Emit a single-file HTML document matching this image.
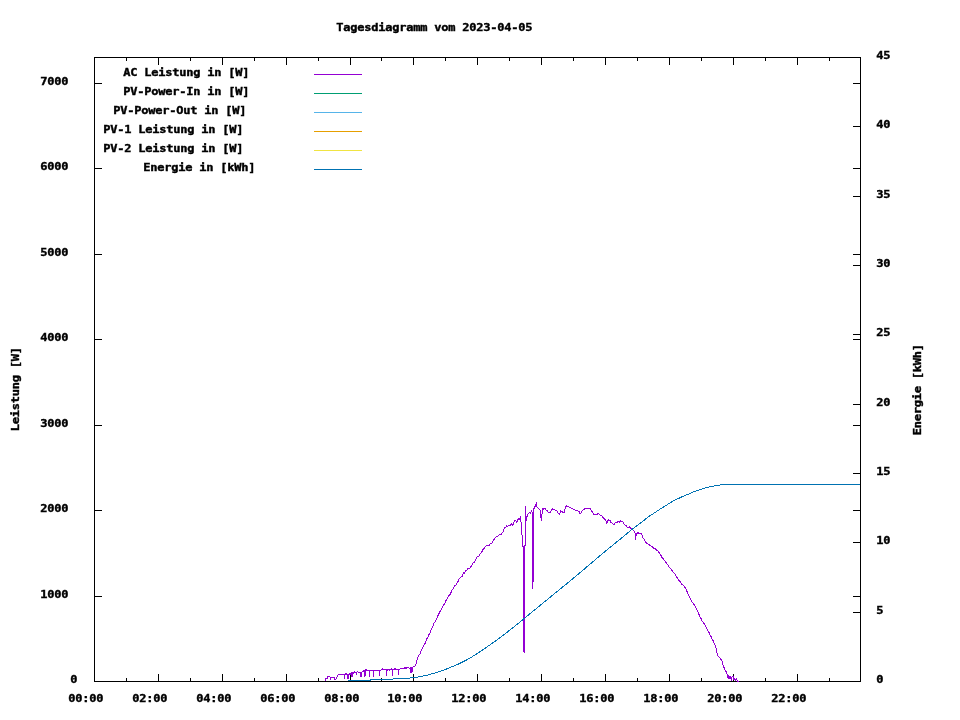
<!DOCTYPE html>
<html lang="de">
<head>
<meta charset="utf-8">
<title>Tagesdiagramm vom 2023-04-05</title>
<style>
html,body{margin:0;padding:0;background:#fff;}
body{width:960px;height:720px;overflow:hidden;}
svg{display:block;}
text{font-family:"DejaVu Sans Mono", "Liberation Mono", monospace;font-size:12.00px;font-weight:bold;letter-spacing:-0.224px;fill:#000;white-space:pre;stroke:#000;stroke-width:0.45px;}
.ax{stroke:#000;stroke-width:1;fill:none;shape-rendering:crispEdges;}
.ln{fill:none;stroke-width:1;stroke-linejoin:round;shape-rendering:crispEdges;}
</style>
</head>
<body>
<svg width="960" height="720" viewBox="0 0 960 720">
<rect x="0" y="0" width="960" height="720" fill="#ffffff"/>

<path class="ax" d="M94.5 57.5H860.5V681.5H94.5ZM126.5 678V681M126.5 58V61M158.5 674V681M158.5 58V65M190.5 678V681M190.5 58V61M222.5 674V681M222.5 58V65M254.5 678V681M254.5 58V61M286.5 674V681M286.5 58V65M318.5 678V681M318.5 58V61M350.5 674V681M350.5 58V65M381.5 678V681M381.5 58V61M413.5 674V681M413.5 58V65M445.5 678V681M445.5 58V61M477.5 674V681M477.5 58V65M509.5 678V681M509.5 58V61M541.5 674V681M541.5 58V65M573.5 678V681M573.5 58V61M605.5 674V681M605.5 58V65M637.5 678V681M637.5 58V61M669.5 674V681M669.5 58V65M701.5 678V681M701.5 58V61M733.5 674V681M733.5 58V65M765.5 678V681M765.5 58V61M797.5 674V681M797.5 58V65M829.5 678V681M829.5 58V61M95 596.5H102M853 596.5H860M95 510.5H102M853 510.5H860M95 425.5H102M853 425.5H860M95 339.5H102M853 339.5H860M95 254.5H102M853 254.5H860M95 168.5H102M853 168.5H860M95 83.5H102M853 83.5H860M853 612.5H860M853 542.5H860M853 473.5H860M853 404.5H860M853 334.5H860M853 265.5H860M853 196.5H860M853 126.5H860"/>
<text transform="translate(336.3,31) scale(1,0.885)">Tagesdiagramm vom 2023-04-05</text>
<text transform="translate(68.3,702) scale(1,0.885)">00:00</text>
<text transform="translate(132.3,702) scale(1,0.885)">02:00</text>
<text transform="translate(196.3,702) scale(1,0.885)">04:00</text>
<text transform="translate(260.3,702) scale(1,0.885)">06:00</text>
<text transform="translate(324.3,702) scale(1,0.885)">08:00</text>
<text transform="translate(387.3,702) scale(1,0.885)">10:00</text>
<text transform="translate(451.3,702) scale(1,0.885)">12:00</text>
<text transform="translate(515.3,702) scale(1,0.885)">14:00</text>
<text transform="translate(579.3,702) scale(1,0.885)">16:00</text>
<text transform="translate(643.3,702) scale(1,0.885)">18:00</text>
<text transform="translate(707.3,702) scale(1,0.885)">20:00</text>
<text transform="translate(771.3,702) scale(1,0.885)">22:00</text>
<text transform="translate(70.3,683) scale(1,0.885)">0</text>
<text transform="translate(40.3,598) scale(1,0.885)">1000</text>
<text transform="translate(40.3,512) scale(1,0.885)">2000</text>
<text transform="translate(40.3,427) scale(1,0.885)">3000</text>
<text transform="translate(40.3,341) scale(1,0.885)">4000</text>
<text transform="translate(40.3,256) scale(1,0.885)">5000</text>
<text transform="translate(40.3,170) scale(1,0.885)">6000</text>
<text transform="translate(40.3,85) scale(1,0.885)">7000</text>
<text transform="translate(876.3,683) scale(1,0.885)">0</text>
<text transform="translate(876.3,614) scale(1,0.885)">5</text>
<text transform="translate(876.3,544) scale(1,0.885)">10</text>
<text transform="translate(876.3,475) scale(1,0.885)">15</text>
<text transform="translate(876.3,406) scale(1,0.885)">20</text>
<text transform="translate(876.3,336) scale(1,0.885)">25</text>
<text transform="translate(876.3,267) scale(1,0.885)">30</text>
<text transform="translate(876.3,198) scale(1,0.885)">35</text>
<text transform="translate(876.3,128) scale(1,0.885)">40</text>
<text transform="translate(876.3,59) scale(1,0.885)">45</text>
<text transform="translate(19,431.3) rotate(-90) scale(1,0.885)">Leistung [W]</text>
<text transform="translate(921,435.3) rotate(-90) scale(1,0.885)">Energie [kWh]</text>
<text transform="translate(123.3,76) scale(1,0.885)">AC Leistung in [W]</text>
<path d="M314 74.5H362" stroke="#9400d3" stroke-width="1" fill="none" shape-rendering="crispEdges"/>
<text transform="translate(123.3,95) scale(1,0.885)">PV-Power-In in [W]</text>
<path d="M314 93.5H362" stroke="#009e73" stroke-width="1" fill="none" shape-rendering="crispEdges"/>
<text transform="translate(113.3,114) scale(1,0.885)">PV-Power-Out in [W]</text>
<path d="M314 112.5H362" stroke="#56b4e9" stroke-width="1" fill="none" shape-rendering="crispEdges"/>
<text transform="translate(103.3,133) scale(1,0.885)">PV-1 Leistung in [W]</text>
<path d="M314 131.5H362" stroke="#e69f00" stroke-width="1" fill="none" shape-rendering="crispEdges"/>
<text transform="translate(103.3,152) scale(1,0.885)">PV-2 Leistung in [W]</text>
<path d="M314 150.5H362" stroke="#f0e442" stroke-width="1" fill="none" shape-rendering="crispEdges"/>
<text transform="translate(143.3,171) scale(1,0.885)">Energie in [kWh]</text>
<path d="M314 169.5H362" stroke="#0072b2" stroke-width="1" fill="none" shape-rendering="crispEdges"/>
<polyline class="ln" stroke="#9400d3" points="325.5,681.0 325.5,678.5 327.5,678.5 327.5,676.5 330.0,676.5 330.5,680.0 331.0,677.0 334.0,677.0 335.0,680.0 336.0,679.0 338.0,675.0 339.0,674.5 341.0,674.5 341.5,674.5 342.0,674.4 342.5,674.9 343.0,674.4 343.5,674.4 344.0,673.8 344.1,674.3 344.5,679.0 344.9,674.3 345.0,674.3 345.5,674.2 346.0,673.7 346.5,674.2 347.0,673.7 347.1,674.1 347.5,679.0 347.9,674.1 348.0,674.1 348.1,674.1 348.5,679.0 348.9,674.1 349.0,674.1 349.5,674.0 350.0,674.5 350.5,674.2 351.0,673.5 351.5,673.2 351.6,673.0 352.0,677.0 352.4,673.0 352.5,672.8 353.0,672.0 353.5,673.0 354.0,672.4 354.5,671.9 355.0,672.4 355.5,672.4 356.0,671.8 356.1,672.3 356.5,675.0 356.9,672.3 357.0,672.3 357.5,671.8 358.0,671.7 358.5,672.7 359.0,672.2 359.5,672.1 360.0,672.1 360.1,672.1 360.5,676.5 360.9,672.1 361.0,671.6 361.1,672.0 361.5,676.5 361.9,672.0 362.0,672.0 362.5,671.8 363.0,672.0 363.5,671.2 364.0,670.5 364.5,670.8 364.6,670.5 365.0,676.5 365.4,670.5 365.5,670.0 366.0,670.5 366.5,670.0 367.0,670.5 367.5,670.5 368.0,670.0 368.5,670.0 369.0,670.5 369.1,670.4 369.5,676.5 369.9,670.4 370.0,670.4 370.5,670.4 371.0,669.9 371.5,670.4 372.0,669.9 372.5,670.4 373.0,669.9 373.1,670.4 373.5,676.5 373.9,670.4 374.0,670.4 374.5,670.9 375.0,669.9 375.5,670.9 376.0,670.4 376.5,670.9 377.0,669.8 377.5,670.8 378.0,670.3 378.5,670.3 379.0,670.3 379.1,670.3 379.5,675.5 379.9,670.3 380.0,670.3 380.5,670.3 381.0,670.3 381.5,669.4 382.0,669.5 382.5,669.0 383.0,670.0 383.5,669.5 384.0,670.0 384.5,669.5 385.0,669.0 385.5,669.5 386.0,669.5 386.1,669.5 386.5,675.5 386.9,669.5 387.0,669.0 387.5,670.0 388.0,669.5 388.5,669.5 389.0,669.5 389.5,670.0 390.0,670.0 390.5,669.5 391.0,669.5 391.5,668.9 392.0,668.9 392.1,669.4 392.5,675.5 392.9,669.4 393.0,669.4 393.5,669.4 394.0,669.4 394.5,668.9 395.0,669.9 395.5,668.9 396.0,669.9 396.5,669.4 397.0,669.4 397.5,669.4 398.0,669.9 398.1,669.4 398.5,674.5 398.9,669.4 399.0,669.4 399.5,669.4 400.0,669.4 400.5,668.3 401.0,668.7 401.5,668.2 402.0,668.6 402.5,668.1 403.0,668.1 403.5,668.6 404.0,668.0 404.5,668.0 405.0,667.5 405.5,667.9 406.0,668.4 406.5,667.9 407.0,667.9 407.5,667.8 408.0,667.8 408.5,667.8 409.0,668.2 409.5,668.2 410.0,668.2 410.1,667.6 410.5,672.5 410.9,667.6 411.0,667.6 411.1,667.6 411.5,672.5 411.9,667.6 412.0,667.6 412.1,667.5 412.5,671.5 412.9,667.5 413.3,666.6 414.1,666.2 414.9,666.3 415.7,665.6 416.5,661.8 417.3,658.4 418.1,657.0 418.9,655.3 419.7,654.7 420.5,653.2 421.3,650.2 422.1,648.6 422.9,647.1 423.7,645.5 424.5,644.4 425.3,643.0 426.1,640.8 426.9,638.6 427.7,637.5 428.5,635.6 429.3,634.0 430.1,632.9 430.9,630.5 431.7,628.3 432.5,626.9 433.3,625.4 434.1,622.7 434.9,622.6 435.7,620.7 436.5,619.3 437.3,617.6 438.1,615.2 438.9,613.8 439.7,611.8 440.5,611.4 441.3,609.0 442.1,607.6 442.9,606.4 443.7,605.0 444.5,603.9 445.3,602.0 446.1,600.4 446.9,599.2 447.7,597.7 448.5,596.7 449.3,594.7 450.1,594.8 450.9,592.9 451.7,590.6 452.5,589.5 453.3,588.5 454.1,587.2 454.9,585.6 455.7,585.6 456.5,584.7 457.3,582.5 458.1,581.3 458.9,579.4 459.7,578.3 460.5,577.7 461.3,576.4 462.1,576.3 462.9,574.0 463.7,572.6 464.5,573.2 465.3,571.5 466.1,570.0 466.9,570.0 467.7,568.4 468.5,568.5 469.3,568.6 470.1,567.6 470.9,566.6 471.7,565.1 472.5,564.1 473.3,562.5 474.1,562.5 474.9,560.9 475.7,560.1 476.5,558.1 477.3,556.8 478.1,556.7 478.9,555.9 479.7,554.7 480.5,553.6 481.3,552.7 482.1,551.5 482.9,549.6 483.7,549.1 484.5,547.9 485.3,546.4 486.1,545.8 486.9,545.7 487.7,545.1 488.5,545.2 489.3,545.1 490.1,543.6 490.9,543.9 491.7,543.4 492.5,542.4 493.3,540.4 494.1,539.3 494.9,538.4 495.7,537.4 496.5,536.5 497.3,536.4 498.1,535.9 498.9,535.4 499.7,534.4 500.5,534.4 501.3,534.3 502.1,532.7 502.9,532.2 503.7,529.9 504.5,527.9 505.3,527.5 506.1,526.7 506.9,525.8 507.7,526.6 508.5,525.4 509.3,525.8 510.1,525.7 510.9,524.3 511.7,523.9 512.5,525.5 513.3,524.2 514.1,521.5 514.9,520.8 515.7,520.3 516.5,522.8 517.3,521.9 518.1,518.7 518.9,520.1 519.7,519.1 520.5,516.2 521.7,530.0 522.8,546.7 523.5,547.0 523.5,652.0 524.5,652.0 524.5,547.0 525.5,544.0 525.5,506.7 526.3,520.8 527.5,515.0 529.2,512.5 530.5,513.5 531.7,510.8 532.5,513.0 532.5,588.5 533.5,576.0 533.5,510.0 534.5,507.0 535.5,506.0 536.3,502.5 537.0,507.0 538.3,508.3 540.0,510.0 541.3,520.8 542.5,509.0 542.5,508.7 543.0,508.6 543.8,509.2 544.6,508.8 545.4,508.9 546.2,510.5 546.7,510.0 547.0,510.6 547.8,511.4 548.6,512.9 549.2,513.0 549.4,512.7 550.2,512.4 551.0,511.4 551.8,509.6 552.5,509.2 552.6,508.9 553.4,509.3 554.2,509.5 555.0,510.3 555.8,510.1 556.6,510.6 556.7,510.8 557.4,511.1 558.2,513.1 559.0,513.2 559.7,514.2 559.8,513.8 560.6,511.5 560.8,510.8 561.4,511.7 562.2,511.4 563.0,512.5 563.8,512.3 564.2,512.5 564.6,510.6 565.4,506.8 565.5,506.3 566.2,505.8 567.0,506.6 567.8,506.5 568.6,506.4 569.4,507.8 570.0,507.5 570.2,507.1 571.0,508.0 571.8,508.7 572.6,508.9 573.4,509.0 574.2,509.6 575.0,510.0 575.8,510.4 576.6,511.0 577.4,510.4 578.2,511.4 579.0,511.3 579.2,511.7 579.8,513.3 580.0,514.2 580.6,513.7 581.4,512.1 582.2,511.0 583.0,510.0 583.3,509.2 583.8,509.7 584.6,508.9 585.4,509.0 586.2,508.7 587.0,508.6 587.8,508.7 588.6,508.2 589.4,508.2 590.0,508.0 590.2,508.3 591.0,510.2 591.8,511.2 592.6,512.7 593.4,514.0 594.2,514.7 595.0,514.1 595.8,514.3 596.6,514.6 597.4,514.2 597.5,513.7 598.2,513.6 599.0,514.1 599.8,515.0 600.6,515.0 601.4,515.7 602.2,515.9 602.5,516.7 603.0,517.4 603.8,518.4 604.6,519.4 605.4,519.1 605.8,520.0 606.2,521.8 606.7,523.3 607.0,522.8 607.8,520.0 608.3,519.2 608.6,520.0 609.4,521.0 610.2,520.7 611.0,522.5 611.8,522.6 612.6,523.5 613.3,524.2 613.4,524.8 614.2,524.2 615.0,522.9 615.8,522.9 616.6,522.6 616.7,522.5 617.4,522.1 618.2,521.7 619.0,521.7 619.8,522.1 620.6,520.9 621.4,521.4 621.7,521.3 622.2,521.8 623.0,522.1 623.8,523.4 624.6,524.7 625.4,525.4 625.8,525.8 626.2,525.4 627.0,527.1 627.8,527.2 628.6,527.9 629.4,527.0 630.2,527.7 630.8,528.3 631.0,527.9 631.8,529.7 632.6,529.8 633.4,530.4 634.2,531.6 635.0,532.5 635.5,539.2 635.8,537.6 636.3,533.3 636.6,533.7 637.4,533.0 638.2,532.8 639.0,533.9 639.8,533.4 640.6,533.6 640.8,533.3 641.4,533.9 642.2,535.5 643.0,538.0 643.3,538.3 643.8,538.9 644.6,539.6 645.4,542.0 646.2,542.8 646.7,543.3 647.0,543.9 647.8,543.4 648.6,545.0 649.4,544.4 650.2,545.9 651.0,546.0 651.8,546.4 652.6,547.1 653.3,547.5 653.4,548.0 654.2,548.0 655.0,548.6 655.8,549.6 656.6,550.0 657.4,550.6 658.2,551.3 658.3,551.7 659.0,552.3 659.8,553.7 660.6,555.0 661.4,556.2 662.2,557.8 663.0,558.5 663.3,559.2 663.8,559.9 664.6,560.6 665.4,561.8 666.2,562.5 667.0,563.8 667.8,564.7 668.3,565.8 668.6,566.4 669.4,567.2 670.2,567.9 671.0,569.2 671.8,570.6 672.6,570.8 673.4,572.5 674.2,573.1 675.0,574.2 675.8,575.4 676.6,576.9 677.4,577.7 678.2,579.0 679.0,580.4 679.8,581.9 680.0,581.7 680.6,582.2 681.4,583.7 682.2,584.5 683.0,585.3 683.8,586.0 684.6,586.9 685.0,587.5 685.4,587.9 686.2,589.7 687.0,591.4 687.8,593.8 688.6,595.0 689.4,596.7 690.0,598.3 690.2,598.2 691.0,600.3 691.8,601.6 692.6,602.7 693.4,603.6 694.2,604.9 695.0,606.2 695.8,607.7 696.6,608.7 696.7,609.2 697.4,610.7 698.2,612.2 699.0,614.6 699.8,616.4 700.6,617.7 701.4,619.1 701.7,620.0 702.2,621.3 703.0,622.0 703.8,623.3 704.6,624.3 705.4,626.0 706.2,627.4 706.7,628.3 707.0,628.9 707.8,630.2 708.6,632.1 709.4,633.2 710.2,635.1 711.0,636.5 711.7,638.3 711.8,638.4 712.6,639.7 713.4,641.3 714.2,643.2 715.0,644.8 715.8,646.7 716.6,650.7 717.4,654.5 717.5,655.0 718.2,656.1 719.0,656.9 719.8,658.0 720.6,659.1 721.4,659.5 721.7,660.0 722.2,661.5 723.0,664.8 723.8,666.6 724.2,668.3 724.6,669.3 725.4,670.9 726.2,671.9 727.0,674.3 727.5,675.0 728.0,678.0 728.5,675.5 729.0,679.0 729.8,676.0 730.8,678.3 731.5,680.0 732.0,677.0 733.3,676.7 734.0,680.0 734.8,678.0 735.5,680.5 736.5,679.0 737.3,681.0 738.5,681.0"/>
<polyline class="ln" stroke="#0072b2" points="348.0,680.5 349.0,680.5 350.0,680.5 351.0,680.5 352.0,680.5 353.0,680.5 354.0,680.4 355.0,680.4 356.0,680.4 357.0,680.4 358.0,680.4 359.0,680.4 360.0,680.4 361.0,680.4 362.0,680.4 363.0,680.4 364.0,680.4 365.0,680.3 366.0,680.3 367.0,680.3 368.0,680.3 369.0,680.3 370.0,680.3 371.0,679.5 372.0,679.5 373.0,679.5 374.0,679.5 375.0,679.4 376.0,679.4 377.0,679.4 378.0,679.4 379.0,679.4 380.0,679.4 381.0,679.4 382.0,679.4 383.0,679.3 384.0,679.3 385.0,679.3 386.0,679.3 387.0,679.3 388.0,679.3 389.0,679.3 390.0,679.2 391.0,679.2 392.0,679.2 393.0,679.2 394.0,678.5 395.0,678.5 396.0,678.5 397.0,678.4 398.0,678.4 399.0,678.4 400.0,678.4 401.0,678.4 402.0,678.3 403.0,678.3 404.0,678.3 405.0,678.3 406.0,678.3 407.0,678.2 408.0,678.2 409.0,678.2 410.0,678.0 411.0,677.9 412.0,677.7 413.0,677.5 414.0,677.4 415.0,677.3 416.0,677.2 417.0,677.1 418.0,677.0 419.0,676.9 420.0,676.8 421.0,676.6 422.0,676.4 423.0,676.1 424.0,675.9 425.0,675.7 426.0,675.5 427.0,675.2 428.0,674.9 429.0,674.7 430.0,674.4 431.0,674.1 432.0,673.9 433.0,673.6 434.0,673.3 435.0,672.9 436.0,672.6 437.0,672.3 438.0,672.0 439.0,671.6 440.0,671.3 441.0,670.9 442.0,670.6 443.0,670.2 444.0,669.9 445.0,669.5 446.0,669.2 447.0,668.8 448.0,668.4 449.0,668.0 450.0,667.6 451.0,667.1 452.0,666.7 453.0,666.3 454.0,665.9 455.0,665.5 456.0,665.0 457.0,664.6 458.0,664.2 459.0,663.7 460.0,663.3 461.0,662.8 462.0,662.3 463.0,661.8 464.0,661.3 465.0,660.8 466.0,660.3 467.0,659.8 468.0,659.2 469.0,658.6 470.0,658.0 471.0,657.4 472.0,656.8 473.0,656.2 474.0,655.6 475.0,654.9 476.0,654.3 477.0,653.6 478.0,653.0 479.0,652.3 480.0,651.7 481.0,651.0 482.0,650.3 483.0,649.7 484.0,649.0 485.0,648.3 486.0,647.6 487.0,646.9 488.0,646.2 489.0,645.5 490.0,644.8 491.0,644.1 492.0,643.4 493.0,642.7 494.0,642.0 495.0,641.3 496.0,640.5 497.0,639.8 498.0,639.1 499.0,638.3 500.0,637.6 501.0,636.8 502.0,636.1 503.0,635.3 504.0,634.6 505.0,633.8 506.0,633.0 507.0,632.3 508.0,631.5 509.0,630.7 510.0,629.9 511.0,629.2 512.0,628.4 513.0,627.6 514.0,626.8 515.0,626.0 516.0,625.2 517.0,624.4 518.0,623.6 519.0,622.8 520.0,622.0 521.0,621.2 522.0,620.3 523.0,619.5 524.0,618.7 525.0,617.9 526.0,617.0 527.0,616.2 528.0,615.4 529.0,614.5 530.0,613.7 531.0,612.9 532.0,612.1 533.0,611.2 534.0,610.4 535.0,609.6 536.0,608.8 537.0,608.0 538.0,607.1 539.0,606.3 540.0,605.5 541.0,604.7 542.0,603.9 543.0,603.0 544.0,602.2 545.0,601.4 546.0,600.6 547.0,599.8 548.0,598.9 549.0,598.1 550.0,597.3 551.0,596.5 552.0,595.7 553.0,594.9 554.0,594.1 555.0,593.2 556.0,592.4 557.0,591.6 558.0,590.8 559.0,590.0 560.0,589.2 561.0,588.4 562.0,587.6 563.0,586.7 564.0,585.9 565.0,585.1 566.0,584.3 567.0,583.5 568.0,582.6 569.0,581.8 570.0,581.0 571.0,580.2 572.0,579.4 573.0,578.5 574.0,577.7 575.0,576.9 576.0,576.0 577.0,575.2 578.0,574.3 579.0,573.5 580.0,572.6 581.0,571.8 582.0,571.0 583.0,570.1 584.0,569.3 585.0,568.4 586.0,567.6 587.0,566.7 588.0,565.9 589.0,565.0 590.0,564.2 591.0,563.3 592.0,562.5 593.0,561.6 594.0,560.8 595.0,559.9 596.0,559.1 597.0,558.2 598.0,557.4 599.0,556.5 600.0,555.7 601.0,554.8 602.0,554.0 603.0,553.1 604.0,552.3 605.0,551.4 606.0,550.6 607.0,549.8 608.0,549.0 609.0,548.2 610.0,547.4 611.0,546.6 612.0,545.8 613.0,545.0 614.0,544.2 615.0,543.4 616.0,542.5 617.0,541.7 618.0,540.9 619.0,540.1 620.0,539.3 621.0,538.5 622.0,537.7 623.0,536.9 624.0,536.1 625.0,535.2 626.0,534.4 627.0,533.5 628.0,532.7 629.0,531.8 630.0,531.0 631.0,530.1 632.0,529.4 633.0,528.6 634.0,527.9 635.0,527.1 636.0,526.3 637.0,525.6 638.0,524.8 639.0,524.1 640.0,523.3 641.0,522.5 642.0,521.8 643.0,521.0 644.0,520.3 645.0,519.5 646.0,518.7 647.0,518.0 648.0,517.2 649.0,516.5 650.0,515.7 651.0,515.1 652.0,514.4 653.0,513.8 654.0,513.1 655.0,512.5 656.0,511.8 657.0,511.1 658.0,510.5 659.0,509.9 660.0,509.2 661.0,508.6 662.0,507.9 663.0,507.3 664.0,506.7 665.0,506.0 666.0,505.4 667.0,504.8 668.0,504.1 669.0,503.5 670.0,502.9 671.0,502.3 672.0,501.6 673.0,501.0 674.0,500.5 675.0,500.0 676.0,499.6 677.0,499.1 678.0,498.7 679.0,498.2 680.0,497.8 681.0,497.3 682.0,496.8 683.0,496.4 684.0,495.9 685.0,495.5 686.0,495.0 687.0,494.6 688.0,494.2 689.0,493.9 690.0,493.5 691.0,493.0 692.0,492.5 693.0,492.1 694.0,491.7 695.0,491.3 696.0,491.0 697.0,490.7 698.0,490.3 699.0,490.0 700.0,489.7 701.0,489.3 702.0,489.0 703.0,488.7 704.0,488.4 705.0,488.1 706.0,487.9 707.0,487.6 708.0,487.4 709.0,487.1 710.0,486.9 711.0,486.7 712.0,486.4 713.0,486.3 714.0,486.1 715.0,485.9 716.0,485.8 717.0,485.6 718.0,485.4 719.0,485.2 720.0,484.9 721.0,484.7 722.0,484.5 860.0,484.5"/>
</svg>
</body>
</html>
